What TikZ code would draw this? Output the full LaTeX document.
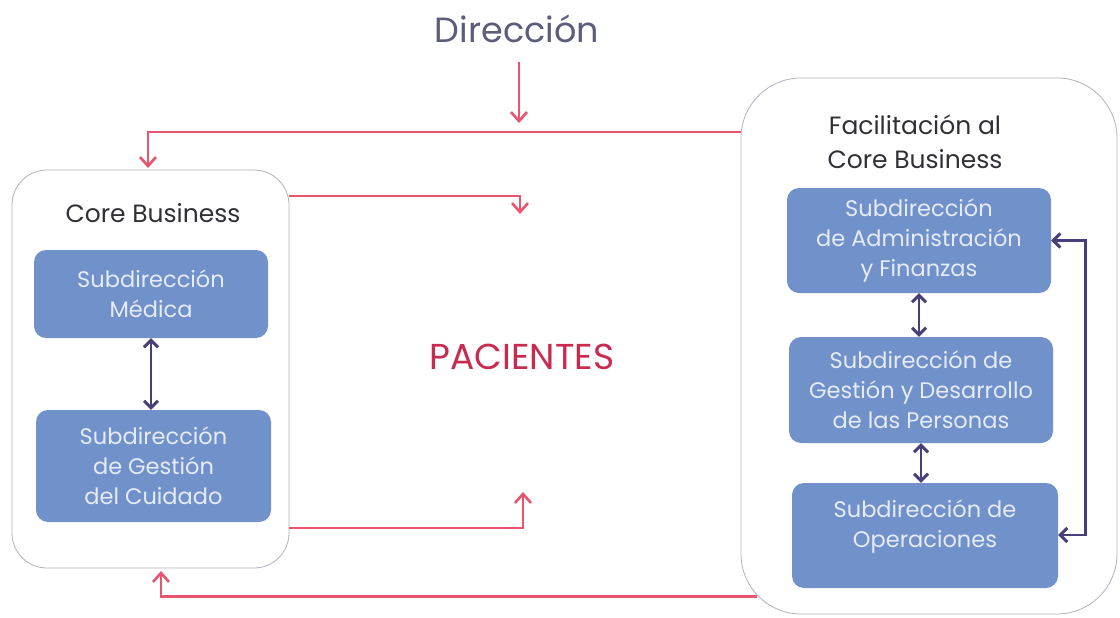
\documentclass[tikz,border=0pt]{standalone}
\usepackage{fontspec}
\setmainfont{Poppins}
\usetikzlibrary{arrows.meta,calc}
\definecolor{rosered}{RGB}{234,84,110}
\definecolor{dirgray}{RGB}{92,92,125}
\definecolor{pacred}{RGB}{200,42,80}
\definecolor{boxblue}{RGB}{112,145,202}
\definecolor{boxtext}{RGB}{230,235,245}
\definecolor{darkarrow}{RGB}{72,62,122}
\definecolor{framegray}{RGB}{178,178,192}
\definecolor{titlegray}{RGB}{48,48,56}
\begin{document}
\begin{tikzpicture}[x=1pt,y=-1pt,
  outerbox/.style={draw=framegray, line width=0.8pt, rounded corners=#1, fill=white, inner sep=0pt},
  subbox/.style={fill=boxblue, rounded corners=12pt, text=boxtext, align=center,
    font=\fontsize{22.5}{30}\selectfont, inner sep=0pt},
  titletext/.style={text=titlegray, align=center, font=\fontsize{25}{34}\selectfont},
  redarrow/.style={draw=rosered, line width=2.3pt,
    -{Straight Barb[length=9pt,width=16pt,line width=2.6pt]}},
  darkarr/.style={draw=darkarrow, line width=2.7pt,
    {Straight Barb[length=7pt,width=14pt,line width=2.9pt]}-{Straight Barb[length=7pt,width=14pt,line width=2.9pt]}}
]
\useasboundingbox (0,0) rectangle (1120,618);
\fill[white] (0,0) rectangle (1120,618);

% top label
\node[text=dirgray, font=\fontsize{35}{40}\selectfont] (dir) at (517,29) {Dirección};
\node[text=pacred, font=\fontsize{36}{40}\selectfont] (pac) at (522,357) {PACIENTES};

% outer containers
\node[outerbox=35pt, minimum width=277pt, minimum height=398pt] (core) at (150.5,369) {};
\node[outerbox=60pt, minimum width=376pt, minimum height=536pt] (fac) at (929,346) {};

\node[titletext] (coretitle) at (153,213) {Core Business};
\node[titletext] (factitle) at (915,142) {Facilitación al\\Core Business};

% left sub boxes
\node[subbox, minimum width=234pt, minimum height=88pt] (med) at (151,294) {Subdirección\\Médica};
\node[subbox, minimum width=235pt, minimum height=112pt] (cui) at (153.5,466) {Subdirección\\de Gestión\\del Cuidado};

% right sub boxes
\node[subbox, minimum width=264pt, minimum height=105pt] (adm) at (919,240.5) {Subdirección\\de Administración\\y Finanzas};
\node[subbox, minimum width=264pt, minimum height=106pt] (per) at (921,390) {Subdirección de\\Gestión y Desarrollo\\de las Personas};
\node[subbox, minimum width=266pt, minimum height=105pt, text depth=24pt] (ope) at (925,535.5) {Subdirección de\\Operaciones};

% free ends
\coordinate (dirtip) at (519,123);
\coordinate (corein) at (148,168);
\coordinate (pin1) at (520,214);
\coordinate (pin2) at (523,492);
\coordinate (coreout) at (161,571);

% red connectors
\draw[redarrow] (dir.south) ++(2,16) -- (dirtip);
\draw[redarrow] (fac.west |- 0,132) -| (corein);
\draw[redarrow] (core.east |- 0,196) -| (pin1);
\draw[redarrow] (core.east |- 0,528) -| (pin2);
\draw[redarrow] (fac.south west) ++(16,-18) -| (coreout);

% dark connectors
\draw[darkarr] (med.south) -- (med.south |- cui.north);
\draw[darkarr] (adm.south) -- (adm.south |- per.north);
\draw[darkarr] (per.south) -- (per.south |- ope.north);
\draw[darkarr] (adm.east) -- ++(34,0) |- (ope.east |- 0,535);
\end{tikzpicture}
\end{document}
